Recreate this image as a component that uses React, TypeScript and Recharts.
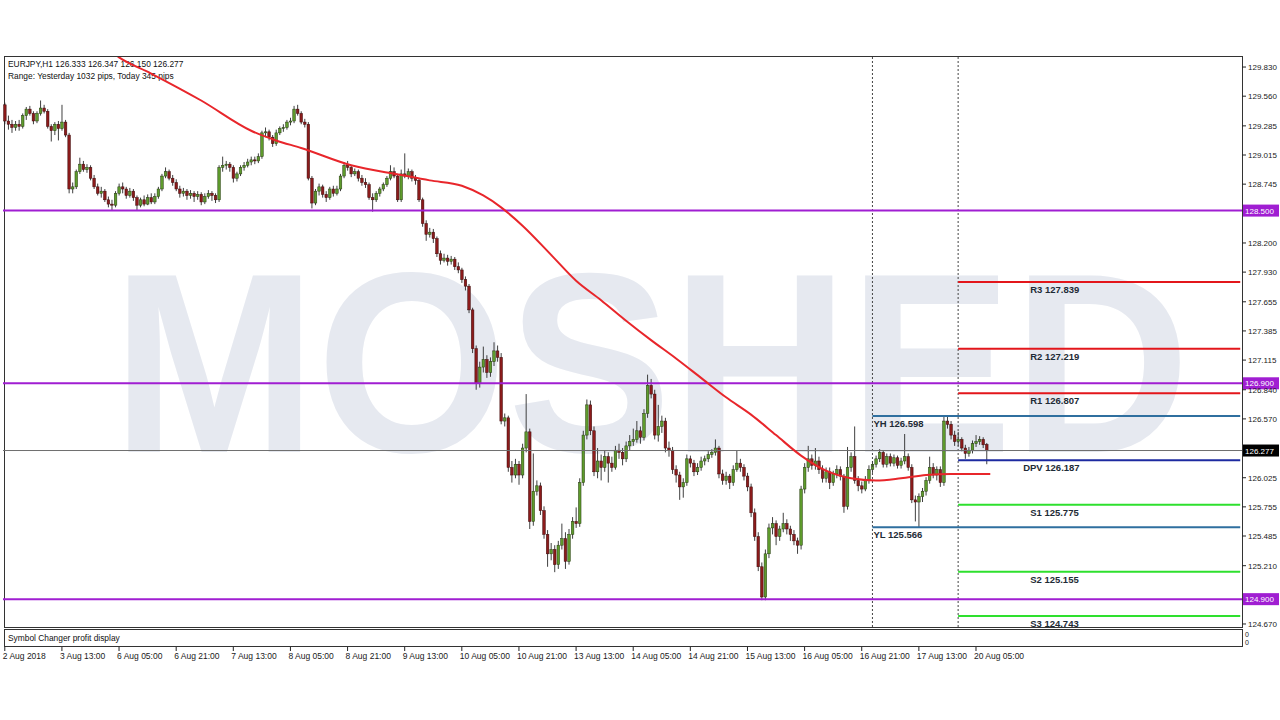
import React from "react";
import { ComposedChart, Bar, Line, XAxis, YAxis, ReferenceLine } from "recharts";

// EURJPY H1 - candles as [open, high, low, close], consecutive bars left to right
type Ohlc = [number, number, number, number];

const FONT = "'Liberation Sans', Arial, sans-serif";

const timeLabels = [
  "2 Aug 2018", "3 Aug 13:00", "6 Aug 05:00", "6 Aug 21:00", "7 Aug 13:00", "8 Aug 05:00",
  "8 Aug 21:00", "9 Aug 13:00", "10 Aug 05:00", "10 Aug 21:00", "13 Aug 13:00", "14 Aug 05:00",
  "14 Aug 21:00", "15 Aug 13:00", "16 Aug 05:00", "16 Aug 21:00", "17 Aug 13:00", "20 Aug 05:00",
];

const candlesA: Ohlc[] = [
  [129.48, 129.5, 129.3, 129.33], [129.33, 129.38, 129.25, 129.3], [129.3, 129.34, 129.22, 129.27],
  [129.27, 129.33, 129.24, 129.3], [129.3, 129.34, 129.24, 129.28], [129.28, 129.4, 129.26, 129.38],
  [129.38, 129.46, 129.34, 129.44], [129.44, 129.47, 129.38, 129.4], [129.4, 129.42, 129.3, 129.33],
  [129.33, 129.42, 129.31, 129.4], [129.4, 129.52, 129.38, 129.45], [129.45, 129.48, 129.4, 129.42],
  [129.42, 129.44, 129.26, 129.28], [129.28, 129.3, 129.14, 129.24], [129.24, 129.32, 129.2, 129.3],
  [129.3, 129.33, 129.15, 129.26],
];
const candlesB: Ohlc[] = [
  [129.26, 129.48, 129.24, 129.32], [129.32, 129.34, 129.18, 129.2], [129.2, 129.22, 128.66, 128.7],
  [128.7, 128.76, 128.66, 128.72], [128.72, 128.88, 128.7, 128.86], [128.86, 128.99, 128.84, 128.93],
  [128.93, 128.96, 128.86, 128.88], [128.88, 128.93, 128.85, 128.9], [128.9, 128.92, 128.78, 128.8],
  [128.8, 128.83, 128.7, 128.72], [128.72, 128.75, 128.64, 128.66], [128.66, 128.72, 128.62, 128.68],
  [128.68, 128.7, 128.58, 128.6], [128.6, 128.63, 128.53, 128.56], [128.56, 128.6, 128.5, 128.55],
  [128.55, 128.68, 128.53, 128.66],
];
const candlesC: Ohlc[] = [
  [128.66, 128.75, 128.64, 128.72], [128.72, 128.76, 128.66, 128.7], [128.7, 128.72, 128.61, 128.64],
  [128.64, 128.71, 128.62, 128.68], [128.68, 128.7, 128.59, 128.62], [128.62, 128.64, 128.5, 128.55],
  [128.55, 128.62, 128.53, 128.6], [128.6, 128.64, 128.54, 128.56], [128.56, 128.65, 128.55, 128.62],
  [128.62, 128.66, 128.56, 128.58], [128.58, 128.66, 128.56, 128.63], [128.63, 128.72, 128.61, 128.7],
  [128.7, 128.84, 128.68, 128.82], [128.82, 128.9, 128.8, 128.86], [128.86, 128.88, 128.78, 128.8],
  [128.8, 128.83, 128.73, 128.76],
];
const candlesD: Ohlc[] = [
  [128.76, 128.79, 128.68, 128.7], [128.7, 128.73, 128.62, 128.66], [128.66, 128.71, 128.63, 128.68],
  [128.68, 128.7, 128.6, 128.64], [128.64, 128.69, 128.61, 128.66], [128.66, 128.68, 128.58, 128.63],
  [128.63, 128.68, 128.6, 128.65], [128.65, 128.67, 128.55, 128.58], [128.58, 128.66, 128.56, 128.63],
  [128.63, 128.69, 128.61, 128.66], [128.66, 128.68, 128.59, 128.64], [128.64, 128.66, 128.57, 128.6],
  [128.6, 128.92, 128.58, 128.9], [128.9, 129.0, 128.86, 128.92], [128.92, 128.96, 128.88, 128.93],
];
const candlesE: Ohlc[] = [
  [128.93, 128.95, 128.86, 128.9], [128.9, 128.92, 128.76, 128.8], [128.8, 128.86, 128.77, 128.84],
  [128.84, 128.92, 128.82, 128.9], [128.9, 128.95, 128.87, 128.92], [128.92, 128.98, 128.9, 128.95],
  [128.95, 129.0, 128.92, 128.97], [128.97, 129.0, 128.93, 128.96], [128.96, 129.03, 128.94, 129.0],
  [129.0, 129.24, 128.98, 129.22], [129.22, 129.27, 129.18, 129.23], [129.23, 129.25, 129.15, 129.18],
  [129.18, 129.2, 129.09, 129.12], [129.12, 129.25, 129.1, 129.22], [129.22, 129.28, 129.2, 129.26],
  [129.26, 129.3, 129.23, 129.27],
];
const candlesF: Ohlc[] = [
  [129.27, 129.34, 129.25, 129.32], [129.32, 129.36, 129.29, 129.33], [129.33, 129.47, 129.31, 129.44],
  [129.44, 129.48, 129.38, 129.4], [129.4, 129.42, 129.3, 129.32], [129.32, 129.35, 129.27, 129.3],
  [129.3, 129.32, 128.78, 128.8], [128.8, 128.82, 128.52, 128.57], [128.57, 128.7, 128.55, 128.68],
  [128.68, 128.75, 128.64, 128.72], [128.72, 128.74, 128.62, 128.65], [128.65, 128.68, 128.58, 128.62],
  [128.62, 128.72, 128.6, 128.7], [128.7, 128.73, 128.63, 128.66], [128.66, 128.73, 128.64, 128.7],
  [128.7, 128.84, 128.68, 128.82],
];
const candlesG: Ohlc[] = [
  [128.82, 128.95, 128.8, 128.92], [128.92, 128.96, 128.87, 128.9], [128.9, 128.92, 128.81, 128.84],
  [128.84, 128.89, 128.82, 128.86], [128.86, 128.88, 128.77, 128.8], [128.8, 128.83, 128.73, 128.76],
  [128.76, 128.8, 128.71, 128.74], [128.74, 128.76, 128.6, 128.62], [128.62, 128.66, 128.49, 128.6],
  [128.6, 128.68, 128.58, 128.66], [128.66, 128.72, 128.63, 128.7], [128.7, 128.76, 128.68, 128.74],
  [128.74, 128.82, 128.72, 128.8], [128.8, 128.92, 128.78, 128.86], [128.86, 128.9, 128.8, 128.82],
  [128.82, 128.84, 128.58, 128.6],
];
const candlesH: Ohlc[] = [
  [128.6, 128.88, 128.58, 128.84], [128.84, 129.03, 128.8, 128.82], [128.82, 128.89, 128.79, 128.86],
  [128.86, 128.88, 128.77, 128.8], [128.8, 128.83, 128.74, 128.78], [128.78, 128.8, 128.58, 128.6],
  [128.6, 128.62, 128.35, 128.38], [128.38, 128.41, 128.22, 128.28], [128.28, 128.34, 128.25, 128.3],
  [128.3, 128.33, 128.2, 128.24], [128.24, 128.26, 128.07, 128.1], [128.1, 128.13, 128.0, 128.04],
  [128.04, 128.1, 128.02, 128.06], [128.06, 128.09, 127.99, 128.03], [128.03, 128.08, 128.0, 128.05],
];
const candlesI: Ohlc[] = [
  [128.05, 128.07, 127.95, 127.98], [127.98, 128.02, 127.92, 127.95], [127.95, 127.97, 127.83, 127.86],
  [127.86, 127.89, 127.76, 127.8], [127.8, 127.82, 127.55, 127.58], [127.58, 127.6, 127.18, 127.22],
  [127.22, 127.25, 126.84, 126.9], [126.9, 127.1, 126.86, 127.05], [127.05, 127.24, 127.0, 127.12],
  [127.12, 127.16, 126.95, 127.0], [127.0, 127.14, 126.96, 127.1], [127.1, 127.28, 127.06, 127.2],
  [127.2, 127.25, 127.1, 127.14], [127.14, 127.18, 126.52, 126.55], [126.55, 126.62, 126.5, 126.58],
  [126.58, 126.6, 126.08, 126.12],
];
const candlesJ: Ohlc[] = [
  [126.12, 126.18, 125.98, 126.05], [126.05, 126.2, 126.02, 126.15], [126.15, 126.18, 125.96, 126.05],
  [126.05, 126.34, 126.02, 126.3], [126.3, 126.8, 126.26, 126.45], [126.45, 126.48, 125.55, 125.62],
  [125.62, 126.25, 125.58, 125.9], [125.9, 126.0, 125.86, 125.95], [125.95, 125.98, 125.68, 125.72],
  [125.72, 125.76, 125.46, 125.5], [125.5, 125.54, 125.2, 125.32], [125.32, 125.42, 125.26, 125.36],
  [125.36, 125.4, 125.15, 125.22], [125.22, 125.44, 125.18, 125.4], [125.4, 125.6, 125.36, 125.46],
  [125.46, 125.52, 125.18, 125.25],
];
const candlesK: Ohlc[] = [
  [125.25, 125.55, 125.22, 125.5], [125.5, 125.66, 125.46, 125.62], [125.62, 125.75, 125.56, 125.6],
  [125.6, 126.02, 125.57, 125.98], [125.98, 126.46, 125.95, 126.42], [126.42, 126.75, 126.38, 126.7],
  [126.7, 126.74, 126.42, 126.46], [126.46, 126.5, 126.04, 126.08], [126.08, 126.3, 126.02, 126.18],
  [126.18, 126.24, 126.0, 126.12], [126.12, 126.28, 126.08, 126.22], [126.22, 126.26, 125.98, 126.16],
  [126.16, 126.22, 126.08, 126.12], [126.12, 126.32, 126.1, 126.28], [126.28, 126.34, 126.2, 126.26],
  [126.26, 126.3, 126.14, 126.2],
];
const candlesL: Ohlc[] = [
  [126.2, 126.36, 126.17, 126.32], [126.32, 126.42, 126.28, 126.36], [126.36, 126.48, 126.32, 126.38],
  [126.38, 126.55, 126.35, 126.46], [126.46, 126.5, 126.34, 126.4], [126.4, 126.66, 126.37, 126.62],
  [126.62, 126.98, 126.58, 126.88], [126.88, 126.94, 126.76, 126.8], [126.8, 126.84, 126.38, 126.42],
  [126.42, 126.7, 126.36, 126.5], [126.5, 126.6, 126.44, 126.55], [126.55, 126.58, 126.26, 126.3],
  [126.3, 126.36, 126.22, 126.28], [126.28, 126.31, 126.06, 126.1], [126.1, 126.14, 125.98, 126.05],
];
const candlesM: Ohlc[] = [
  [126.05, 126.08, 125.82, 125.94], [125.94, 126.02, 125.84, 125.98], [125.98, 126.24, 125.95, 126.2],
  [126.2, 126.23, 126.12, 126.16], [126.16, 126.19, 126.04, 126.08], [126.08, 126.16, 126.05, 126.12],
  [126.12, 126.22, 126.09, 126.18], [126.18, 126.23, 126.14, 126.2], [126.2, 126.27, 126.17, 126.24],
  [126.24, 126.29, 126.21, 126.26], [126.26, 126.38, 126.23, 126.3], [126.3, 126.32, 126.02, 126.06],
  [126.06, 126.1, 125.96, 126.0], [126.0, 126.08, 125.96, 126.04], [126.04, 126.06, 125.92, 125.98],
  [125.98, 126.14, 125.95, 126.1],
];
const candlesN: Ohlc[] = [
  [126.1, 126.28, 126.08, 126.16], [126.16, 126.2, 126.08, 126.12], [126.12, 126.15, 126.0, 126.04],
  [126.04, 126.07, 125.9, 125.94], [125.94, 125.97, 125.66, 125.7], [125.7, 125.74, 125.44, 125.48],
  [125.48, 125.52, 125.16, 125.2], [125.2, 125.24, 124.89, 124.92], [124.92, 125.36, 124.89, 125.32],
  [125.32, 125.6, 125.28, 125.56], [125.56, 125.66, 125.5, 125.6], [125.6, 125.63, 125.4, 125.48],
  [125.48, 125.58, 125.44, 125.55], [125.55, 125.7, 125.52, 125.6], [125.6, 125.64, 125.5, 125.55],
  [125.55, 125.58, 125.44, 125.5],
];
const candlesO: Ohlc[] = [
  [125.5, 125.54, 125.4, 125.44], [125.44, 125.47, 125.32, 125.4], [125.4, 125.95, 125.36, 125.92],
  [125.92, 126.16, 125.88, 126.12], [126.12, 126.32, 126.08, 126.2], [126.2, 126.24, 126.1, 126.14],
  [126.14, 126.3, 126.1, 126.18], [126.18, 126.22, 126.06, 126.1], [126.1, 126.14, 125.98, 126.02],
  [126.02, 126.12, 125.98, 126.08], [126.08, 126.12, 125.92, 125.98], [125.98, 126.09, 125.95, 126.06],
  [126.06, 126.14, 126.02, 126.1], [126.1, 126.13, 126.0, 126.04], [126.04, 126.06, 125.7, 125.76],
  [125.76, 126.31, 125.73, 126.12],
];
const candlesP: Ohlc[] = [
  [126.12, 126.26, 126.08, 126.22], [126.22, 126.5, 125.97, 126.0], [126.0, 126.04, 125.9, 125.95],
  [125.95, 125.99, 125.88, 125.92], [125.92, 126.04, 125.9, 126.0], [126.0, 126.14, 125.97, 126.1],
  [126.1, 126.18, 126.07, 126.15], [126.15, 126.23, 126.12, 126.2], [126.2, 126.29, 126.17, 126.26],
  [126.26, 126.28, 126.12, 126.15], [126.15, 126.25, 126.12, 126.22], [126.22, 126.25, 126.13, 126.16],
  [126.16, 126.24, 126.13, 126.21], [126.21, 126.23, 126.11, 126.14],
  [126.14, 126.21, 126.11, 126.18],
];
const candlesQ: Ohlc[] = [
  [126.18, 126.43, 126.15, 126.22], [126.22, 126.25, 126.09, 126.12], [126.12, 126.15, 125.79, 125.82],
  [125.82, 125.86, 125.62, 125.8], [125.8, 125.88, 125.566, 125.85], [125.85, 125.93, 125.8, 125.9],
  [125.9, 126.03, 125.86, 126.0], [126.0, 126.22, 125.97, 126.12], [126.12, 126.16, 126.02, 126.05],
  [126.05, 126.13, 126.0, 126.1], [126.1, 126.13, 125.94, 125.98], [125.98, 126.598, 125.95, 126.55],
  [126.55, 126.59, 126.48, 126.52], [126.52, 126.55, 126.38, 126.42], [126.42, 126.46, 126.32, 126.36],
];
const candlesR: Ohlc[] = [
  [126.36, 126.45, 126.32, 126.38], [126.38, 126.4, 126.27, 126.3], [126.3, 126.33, 126.2, 126.25],
  [126.25, 126.31, 126.22, 126.28], [126.28, 126.37, 126.25, 126.34], [126.34, 126.42, 126.31, 126.36],
  [126.36, 126.41, 126.33, 126.38], [126.38, 126.4, 126.3, 126.33], [126.333, 126.347, 126.15, 126.277],
];

// moving average, read at [bar index, value]
const maPoints: [number, number][] = [
  [28, 130.02], [32, 129.92], [41, 129.77], [55, 129.52], [69, 129.24], [76, 129.15], [83, 129.08],
  [97, 128.92], [111, 128.83], [119, 128.78], [128, 128.73], [134, 128.64], [139, 128.53],
  [145, 128.36], [153, 128.09], [160, 127.85], [167, 127.67], [174, 127.48], [181, 127.3],
  [188, 127.13], [195, 126.95], [202, 126.77], [209, 126.61], [216, 126.42], [223, 126.23],
  [230, 126.09], [237, 126.02], [244, 126.0], [251, 126.02], [258, 126.05], [265, 126.06], [276, 126.06],
];

const priceTicks = [
  129.83, 129.56, 129.285, 129.015, 128.745, 128.2, 127.93, 127.655, 127.385, 127.115, 126.84,
  126.57, 126.025, 125.755, 125.485, 125.21, 124.67,
];
const keyLevels = [128.5, 126.9, 124.9];
const currentPrice = 126.277;
const yesterdayHigh = 126.598;
const yesterdayLow = 125.566;
const pivots = [
  { name: "R3", value: 127.839, color: "#e3161b" },
  { name: "R2", value: 127.219, color: "#e3161b" },
  { name: "R1", value: 126.807, color: "#e3161b" },
  { name: "DPV", value: 126.187, color: "#1c2aa0" },
  { name: "S1", value: 125.775, color: "#2ee02e" },
  { name: "S2", value: 125.155, color: "#2ee02e" },
  { name: "S3", value: 124.743, color: "#2ee02e" },
];

const YESTERDAY_BAR = 243;
const TODAY_BAR = 267;
const FUTURE_BARS = 71;

const candles: Ohlc[] = [
  ...candlesA, ...candlesB, ...candlesC, ...candlesD, ...candlesE, ...candlesF, ...candlesG,
  ...candlesH, ...candlesI, ...candlesJ, ...candlesK, ...candlesL, ...candlesM, ...candlesN,
  ...candlesO, ...candlesP, ...candlesQ, ...candlesR,
];

const rows: any[] = [
  ...candles.map(([o, h, l, c], i) => ({ i, o, h, l, c, range: [l, h] })),
  ...Array.from({ length: FUTURE_BARS }, (_, k) => ({ i: candles.length + k })),
];
for (const [i, v] of maPoints) rows[i].ma = v;
const LAST_BAR = rows.length - 1;

const PURPLE = "#a01ed2";

function Candle(props: any) {
  const { x, y, width, height, payload } = props;
  if (!payload || payload.o == null) return null;
  const { o, h, l, c } = payload;
  const cx = x + width / 2;
  const k = h > l ? height / (h - l) : 0;
  const py = (p: number) => y + (h - p) * k;
  const top = py(Math.max(o, c));
  const bot = py(Math.min(o, c));
  const up = c >= o;
  const bw = 2.6;
  return (
    <g>
      <line x1={cx} x2={cx} y1={y} y2={y + height} stroke="#2a2a2a" strokeWidth={0.9} />
      <rect
        x={cx - bw / 2}
        y={top}
        width={bw}
        height={Math.max(bot - top, 0.8)}
        fill={up ? "#5e9b2c" : "#8c1b1b"}
        stroke={up ? "#24380f" : "#3a0a0a"}
        strokeWidth={0.5}
      />
    </g>
  );
}

function TimeTick(props: any) {
  const { x, payload } = props;
  const i = Number(payload.value);
  if (i % 16 !== 0 || i / 16 >= timeLabels.length) return null;
  return (
    <g>
      <line x1={x} x2={x} y1={647} y2={651} stroke="#222" />
      <text x={x - 2} y={659} fontSize={8.5} fill="#1a1a1a" fontFamily={FONT}>
        {timeLabels[i / 16]}
      </text>
    </g>
  );
}

function PriceTick(props: any) {
  const { x, y, payload } = props;
  return (
    <text x={x} y={y + 3} fontSize={8} fill="#1a1a1a" fontFamily={FONT}>
      {Number(payload.value).toFixed(3)}
    </text>
  );
}

function AxisTag({ viewBox, text, fill }: any) {
  if (!viewBox) return null;
  const x = viewBox.x + viewBox.width + 1;
  const y = viewBox.y;
  return (
    <g>
      <rect x={x} y={y - 6} width={36} height={12} fill={fill} />
      <text x={x + 2} y={y + 3} fontSize={8} fill="#fff" fontFamily={FONT}>
        {text}
      </text>
    </g>
  );
}

function LevelText({ viewBox, text, dx }: any) {
  if (!viewBox) return null;
  return (
    <text x={viewBox.x + dx} y={viewBox.y + 11} fontSize={9.5} fontWeight="bold" fill="#1e2b36" fontFamily={FONT}>
      {text}
    </text>
  );
}

export default function App() {
  return (
    <div style={{ position: "absolute", left: 0, top: 0, width: 1280, height: 720, background: "#fff" }}>
      <svg width={1280} height={720} style={{ position: "absolute", left: 0, top: 0 }}>
        <text
          x={112}
          y={452}
          fontSize={256}
          fontWeight="bold"
          fontFamily={FONT}
          fill="#e6e9f0"
          textLength={1078}
          lengthAdjust="spacingAndGlyphs"
        >
          MOSHED
        </text>
        <text x={8} y={67} fontSize={8.4} fill="#111" fontFamily={FONT}>
          EURJPY,H1  126.333 126.347 126.150 126.277
        </text>
        <text x={8} y={79} fontSize={8.4} fill="#111" fontFamily={FONT}>
          Range: Yesterday 1032 pips, Today 345 pips
        </text>
        <rect x={4.5} y={56.5} width={1238} height={571} fill="none" stroke="#333" strokeWidth={1} />
        <rect x={4.5} y={629.5} width={1238} height={17} fill="none" stroke="#333" strokeWidth={1} />
        <text x={8} y={641} fontSize={8.4} fill="#111" fontFamily={FONT}>
          Symbol Changer profit display
        </text>
        <text x={1245} y={637} fontSize={7} fill="#222" fontFamily={FONT}>0</text>
        <text x={1245} y={645} fontSize={7} fill="#222" fontFamily={FONT}>0</text>
      </svg>
      <div style={{ position: "absolute", left: 0, top: 0 }}>
        <ComposedChart width={1280} height={720} data={rows} margin={{ top: 57, right: 0, bottom: 0, left: 3 }}>
          <XAxis
            dataKey="i"
            type="category"
            interval={0}
            height={93}
            tickLine={false}
            axisLine={false}
            tick={<TimeTick />}
          />
          <YAxis
            orientation="right"
            type="number"
            width={38}
            domain={[124.642, 129.923]}
            allowDataOverflow
            ticks={priceTicks}
            interval={0}
            tickSize={4}
            tickLine={{ stroke: "#222" }}
            axisLine={false}
            tick={<PriceTick />}
          />
          <ReferenceLine x={YESTERDAY_BAR} stroke="#444" strokeDasharray="2 2" />
          <ReferenceLine x={TODAY_BAR} stroke="#444" strokeDasharray="2 2" />
          <ReferenceLine
            y={currentPrice}
            stroke="#6e6e6e"
            strokeWidth={1}
            label={<AxisTag text={currentPrice.toFixed(3)} fill="#000" />}
          />
          {keyLevels.map((v) => (
            <ReferenceLine
              key={v}
              y={v}
              stroke={PURPLE}
              strokeWidth={2}
              label={<AxisTag text={v.toFixed(3)} fill={PURPLE} />}
            />
          ))}
          <ReferenceLine
            segment={[{ x: YESTERDAY_BAR, y: yesterdayHigh }, { x: LAST_BAR, y: yesterdayHigh }]}
            stroke="#2f6f9f"
            strokeWidth={2}
            label={<LevelText text={`YH ${yesterdayHigh.toFixed(3)}`} dx={1} />}
          />
          <ReferenceLine
            segment={[{ x: YESTERDAY_BAR, y: yesterdayLow }, { x: LAST_BAR, y: yesterdayLow }]}
            stroke="#2f6f9f"
            strokeWidth={2}
            label={<LevelText text={`YL ${yesterdayLow.toFixed(3)}`} dx={1} />}
          />
          {pivots.map((p) => (
            <ReferenceLine
              key={p.name}
              segment={[{ x: TODAY_BAR, y: p.value }, { x: LAST_BAR, y: p.value }]}
              stroke={p.color}
              strokeWidth={2}
              label={<LevelText text={`${p.name} ${p.value.toFixed(3)}`} dx={p.name === "DPV" ? 65 : 72} />}
            />
          ))}
          <Bar dataKey="range" shape={<Candle />} isAnimationActive={false} />
          <Line
            dataKey="ma"
            type="monotone"
            stroke="#e8262b"
            strokeWidth={2}
            dot={false}
            connectNulls
            isAnimationActive={false}
          />
        </ComposedChart>
      </div>
    </div>
  );
}
